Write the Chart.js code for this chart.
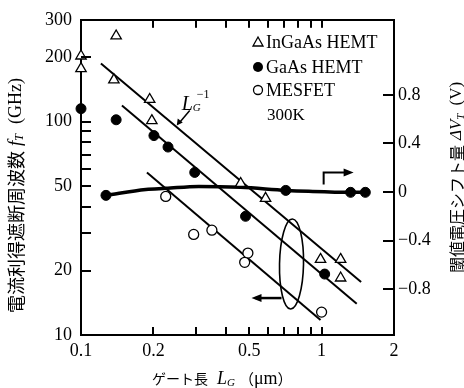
<!DOCTYPE html>
<html>
<head>
<meta charset="utf-8">
<script src="https://cdn.jsdelivr.net/npm/chart.js@4.4.1/dist/chart.umd.min.js"></script>
<style>
  html, body { margin: 0; padding: 0; background: #fff; }
</style>
</head>
<body>
<canvas id="c" width="464" height="388"></canvas>
<script>
// ===== Dados =====
// InGaAs HEMT (triângulos abertos)
const ingaasL = [0.1, 0.1, 0.14, 0.137, 0.193, 0.197, 0.461, 0.585, 0.99, 1.2, 1.2];
const ingaasF = [203, 177, 252, 157, 127, 101, 51.3, 43.7, 22.6, 22.6, 18.5];
// GaAs HEMT (círculos cheios)
const gaasL = [0.1, 0.14, 0.201, 0.23, 0.297, 0.483, 1.03];
const gaasF = [115, 102, 86, 76, 57.8, 36, 19.3];
// MESFET (círculos abertos)
const mesL = [0.225, 0.294, 0.35, 0.494, 0.479, 1.0];
const mesF = [44.6, 29.6, 31, 24.2, 21.9, 12.8];
// retas de ajuste ~ 1/Lg (pontos extremos)
const fit1L = [0.121, 1.46];
const fit1F = [187, 17.7];
const fit2L = [0.148, 1.40];
const fit2F = [119, 14.0];
const fit3L = [0.188, 0.99];
const fit3F = [57.8, 11.75];
// deslocamento da tensão de limiar (eixo direito)
const vtL = [0.127, 0.186, 0.225, 0.309, 0.461, 0.71, 0.884, 1.32, 1.52];
const vtV = [-0.028, 0.021, 0.03, 0.046, 0.038, 0.013, 0.005, -0.003, -0.003];
const vtDotL = [0.127, 0.71, 1.32, 1.52];
const vtDotV = [-0.028, 0.013, -0.003, -0.003];
// ticks
const xLabelTicks = [0.1, 0.2, 0.5, 1, 2];
const xMinorTicks = [0.2, 0.3, 0.4, 0.5, 0.6, 0.7, 0.8, 0.9, 1];
const yLabelTicks = [10, 20, 50, 100, 200, 300];
const yMinorTicks = [20, 30, 40, 50, 60, 70, 80, 90, 100, 200];
const vtTicks = [-0.8, -0.4, 0, 0.4, 0.8];

const SERIF = '"Liberation Serif", "DejaVu Serif", serif';
const CJK = '"Noto Sans CJK JP", sans-serif';
Chart.defaults.font.family = SERIF;
Chart.defaults.color = '#000';

const pts = (xs, ys) => xs.map((x, i) => ({ x, y: ys[i] }));

// ===== Helpers de desenho =====
function arrowHead(ctx, x, y, dir) {
  // dir: 1 = direita, -1 = esquerda
  ctx.beginPath();
  ctx.moveTo(x, y);
  ctx.lineTo(x - dir * 10, y - 4);
  ctx.lineTo(x - dir * 10, y + 4);
  ctx.closePath();
  ctx.fill();
}

function drawRuns(ctx, runs) {
  let x = 0;
  runs.forEach(r => {
    if (r.gap) { x += r.gap; return; }
    ctx.font = r.f;
    ctx.fillText(r.t, x, r.dy || 0);
    x += ctx.measureText(r.t).width;
  });
}

// marcas de tick para dentro da área do gráfico
function drawInnerTicks(chart) {
  const c = chart.ctx;
  const a = chart.chartArea;
  const sx = chart.scales.x, sy = chart.scales.y, s2 = chart.scales.y2;
  c.save();
  c.fillStyle = '#000';
  xMinorTicks.forEach(v => {
    const px = Math.round(sx.getPixelForValue(v));
    c.fillRect(px - 1, a.bottom - 8, 2, 8);
    c.fillRect(px - 1, a.top, 2, 8);
  });
  yMinorTicks.forEach(v => {
    const py = Math.round(sy.getPixelForValue(v));
    c.fillRect(a.left, py - 1, 10, 2);
  });
  vtTicks.forEach(v => {
    const py = Math.round(s2.getPixelForValue(v));
    c.fillRect(a.right - 11, py - 1, 11, 2);
  });
  c.restore();
}

const notes = {
  id: 'notes',
  afterDraw(chart) {
    const { ctx, scales } = chart;
    const X = v => scales.x.getPixelForValue(v);
    const Y = v => scales.y.getPixelForValue(v);
    const Y2 = v => scales.y2.getPixelForValue(v);
    ctx.save();
    ctx.fillStyle = '#000';
    ctx.strokeStyle = '#000';

    // elipse em torno do grupo Lg ~ 0.75 um
    const ex = X(0.75), ey = Y(21.5);
    ctx.lineWidth = 1.6;
    ctx.beginPath();
    ctx.ellipse(ex, ey, 12, 45, 0.02, 0, Math.PI * 2);
    ctx.stroke();
    // seta para a esquerda (eixo fT)
    ctx.lineWidth = 2.5;
    ctx.beginPath();
    ctx.moveTo(ex - 10, ey + 34); ctx.lineTo(ex - 36, ey + 34);
    ctx.stroke();
    arrowHead(ctx, ex - 40, ey + 34, -1);
    // seta para a direita (eixo ΔVT)
    const cx = X(1.02), cy = Y2(0.16);
    ctx.lineWidth = 2;
    ctx.beginPath();
    ctx.moveTo(cx, cy + 12); ctx.lineTo(cx, cy); ctx.lineTo(cx + 22, cy);
    ctx.stroke();
    arrowHead(ctx, cx + 30, cy, 1);

    // rótulo L_G^-1 com ponteiro
    const lx = X(0.25), ly = Y(96);
    ctx.lineWidth = 1.5;
    ctx.beginPath();
    ctx.moveTo(lx + 13, ly - 15); ctx.lineTo(lx + 2, ly - 2);
    ctx.stroke();
    ctx.beginPath();
    ctx.moveTo(lx, ly); ctx.lineTo(lx + 1, ly - 7); ctx.lineTo(lx + 6, ly - 3);
    ctx.closePath(); ctx.fill();
    ctx.textBaseline = 'alphabetic';
    ctx.save();
    ctx.translate(lx + 5, ly - 15);
    drawRuns(ctx, [
      { t: 'L', f: 'italic 20px ' + SERIF },
      { t: 'G', f: 'italic 11px ' + SERIF, dy: 1 }
    ]);
    ctx.font = '12px ' + SERIF;
    ctx.fillText('−1', 15, -12);
    ctx.restore();

    // legenda
    const lgx = 258;
    const rows = [42, 67, 90];
    ctx.textBaseline = 'middle';
    ctx.font = '18px ' + SERIF;
    ctx.lineWidth = 1.3;
    ctx.beginPath();
    ctx.moveTo(lgx, rows[0] - 5); ctx.lineTo(lgx + 5, rows[0] + 4); ctx.lineTo(lgx - 5, rows[0] + 4);
    ctx.closePath(); ctx.stroke();
    ctx.beginPath(); ctx.arc(lgx, rows[1], 5, 0, Math.PI * 2); ctx.fill();
    ctx.beginPath(); ctx.arc(lgx, rows[2], 4.5, 0, Math.PI * 2); ctx.stroke();
    ctx.fillText('InGaAs HEMT', lgx + 8, rows[0] + 1);
    ctx.fillText('GaAs HEMT', lgx + 8, rows[1] + 1);
    ctx.fillText('MESFET', lgx + 8, rows[2] + 1);
    ctx.font = '17px ' + SERIF;
    ctx.fillText('300K', lgx + 9, 116);

    // título do eixo esquerdo
    ctx.textBaseline = 'middle';
    ctx.save();
    ctx.translate(16, 313);
    ctx.rotate(-Math.PI / 2);
    drawRuns(ctx, [
      { t: '電流利得遮断周波数', f: '18px ' + CJK },
      { gap: 5 },
      { t: 'f', f: 'italic 19px ' + SERIF },
      { t: 'T', f: 'italic 12px ' + SERIF, dy: 4 },
      { gap: 10 },
      { t: '(GHz)', f: '18px ' + SERIF }
    ]);
    ctx.restore();

    // título do eixo direito
    ctx.save();
    ctx.translate(457, 273);
    ctx.rotate(-Math.PI / 2);
    drawRuns(ctx, [
      { t: '閾値電圧シフト量', f: '16px ' + CJK },
      { gap: 5 },
      { t: 'ΔV', f: 'italic 17px ' + SERIF },
      { t: 'T', f: 'italic 11px ' + SERIF, dy: 4 },
      { gap: 8 },
      { t: '(V)', f: '17px ' + SERIF }
    ]);
    ctx.restore();

    // título do eixo x
    ctx.save();
    ctx.translate(152, 379);
    drawRuns(ctx, [
      { t: 'ゲート長', f: '14px ' + CJK },
      { gap: 9 },
      { t: 'L', f: 'italic 18px ' + SERIF },
      { t: 'G', f: 'italic 11px ' + SERIF, dy: 4 },
      { gap: 4 },
      { t: '（', f: '15px ' + CJK },
      { t: 'μm', f: '18px ' + SERIF },
      { t: '）', f: '15px ' + CJK }
    ]);
    ctx.restore();

    ctx.restore();

    drawInnerTicks(chart);
  }
};

// ===== Gráfico =====
const blackLine = (data) => ({
  data, showLine: true, borderColor: '#000', borderWidth: 2,
  pointRadius: 0, fill: false
});

const ctx = document.getElementById('c').getContext('2d');
new Chart(ctx, {
  type: 'scatter',
  data: {
    datasets: [
      { label: 'InGaAs HEMT', data: pts(ingaasL, ingaasF), pointStyle: 'triangle',
        pointRadius: 6, backgroundColor: '#fff', borderColor: '#000', borderWidth: 1.3, clip: false },
      { label: 'GaAs HEMT', data: pts(gaasL, gaasF), pointStyle: 'circle',
        pointRadius: 5, backgroundColor: '#000', borderColor: '#000', borderWidth: 1, clip: false },
      { label: 'MESFET', data: pts(mesL, mesF), pointStyle: 'circle',
        pointRadius: 5, backgroundColor: '#fff', borderColor: '#000', borderWidth: 1.3, clip: false },
      blackLine(pts(fit1L, fit1F)),
      blackLine(pts(fit2L, fit2F)),
      blackLine(pts(fit3L, fit3F)),
      { label: 'ΔVT', data: pts(vtL, vtV), yAxisID: 'y2', showLine: true,
        borderColor: '#000', borderWidth: 3.5, pointRadius: 0,
        cubicInterpolationMode: 'monotone', fill: false },
      { label: 'ΔVT pts', data: pts(vtDotL, vtDotV), yAxisID: 'y2',
        pointRadius: 5, backgroundColor: '#000', borderColor: '#000', clip: false }
    ]
  },
  options: {
    responsive: false,
    animation: false,
    events: [],
    layout: { padding: 0 },
    plugins: { legend: { display: false }, tooltip: { enabled: false } },
    scales: {
      x: {
        type: 'logarithmic', position: 'bottom', min: 0.1, max: 2,
        afterFit: s => { s.height = 53; },
        afterBuildTicks: s => { s.ticks = xLabelTicks.map(v => ({ value: v })); },
        ticks: { autoSkip: false, maxRotation: 0, padding: 5, font: { size: 18 }, color: '#000',
                 callback: v => String(v) },
        grid: { display: false, drawTicks: false },
        border: { display: true, color: '#000', width: 2 }
      },
      xTop: {
        type: 'logarithmic', position: 'top', min: 0.1, max: 2,
        afterFit: s => { s.height = 19; },
        ticks: { display: false },
        grid: { display: false, drawTicks: false },
        border: { display: true, color: '#000', width: 2 }
      },
      y: {
        type: 'logarithmic', position: 'left', min: 10, max: 300,
        afterFit: s => { s.width = 81; },
        afterBuildTicks: s => { s.ticks = yLabelTicks.map(v => ({ value: v })); },
        ticks: { autoSkip: false, padding: 9, font: { size: 18 }, color: '#000',
                 callback: v => String(v) },
        grid: { display: false, drawTicks: false },
        border: { display: true, color: '#000', width: 2 }
      },
      y2: {
        type: 'linear', position: 'right', min: -1.178, max: 1.418,
        afterFit: s => { s.width = 70; },
        afterBuildTicks: s => { s.ticks = vtTicks.map(v => ({ value: v })); },
        ticks: { autoSkip: false, padding: 4, font: { size: 18 }, color: '#000',
                 callback: v => v < 0 ? '−' + Math.abs(v) : String(v) },
        grid: { display: false, drawTicks: false },
        border: { display: true, color: '#000', width: 2 }
      }
    }
  },
  plugins: [notes]
});
</script>
</body>
</html>
